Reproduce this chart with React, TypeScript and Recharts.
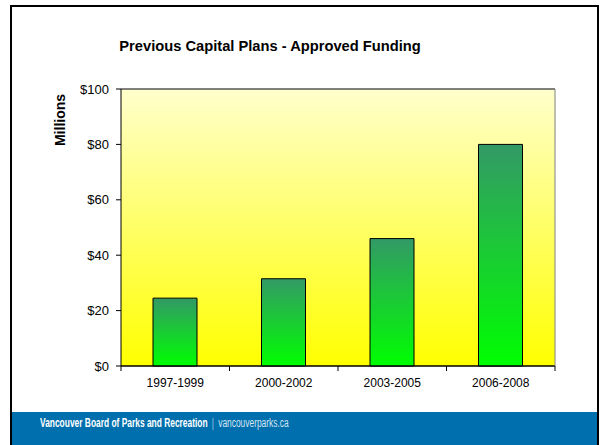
import React from 'react';
import {
    BarChart,
    Bar,
    XAxis,
    YAxis,
    CartesianGrid,
    ReferenceLine,
} from 'recharts';

// ---- data ----
const periods = ['1997-1999', '2000-2002', '2003-2005', '2006-2008'];
const funding = [24.5, 31.5, 46, 80];
const yTicks = [0, 20, 40, 60, 80, 100];

const chartData = periods.map((p, i) => ({ period: p, funding: funding[i] }));

// ---- layout ----
const W = 600;
const H = 445;
const PLOT_LEFT = 121;
const PLOT_RIGHT = 555;
const PLOT_TOP = 89;
const PLOT_BOTTOM = 366;
const X_AXIS_H = 30;
const HALF_BAND = (PLOT_RIGHT - PLOT_LEFT) / periods.length / 2;
const FONT = 'Arial, "Liberation Sans", Helvetica, sans-serif';

/**
 * Category tick: label at the centre, tick marks on the band edges (Excel style)
 */
function PeriodTick(props: any) {
    const { x, payload, index } = props;
    const isLast = index === periods.length - 1;
    return (
        <g>
            <line x1={x - HALF_BAND} x2={x - HALF_BAND} y1={PLOT_BOTTOM} y2={PLOT_BOTTOM + 5} stroke="#000" />
            {isLast && (
                <line x1={x + HALF_BAND} x2={x + HALF_BAND} y1={PLOT_BOTTOM} y2={PLOT_BOTTOM + 5} stroke="#000" />
            )}
            <text x={x} y={PLOT_BOTTOM + 21} textAnchor="middle" fontSize={12} fontFamily={FONT} fill="#000">
                {payload.value}
            </text>
        </g>
    );
}

export default function App() {
    return (
        <div style={{ position: 'absolute', left: 0, top: 0, width: W, height: H, background: '#fff', overflow: 'hidden' }}>
            {/* Slide frame */}
            <div
                style={{
                    position: 'absolute',
                    left: 10,
                    top: 5,
                    width: 589,
                    height: 440,
                    boxSizing: 'border-box',
                    borderLeft: '2.5px solid #000',
                    borderTop: '2.5px solid #000',
                    borderRight: '2px solid #000',
                }}
            />

            {/* Title */}
            <div
                style={{
                    position: 'absolute',
                    left: 0,
                    width: 540,
                    top: 38,
                    textAlign: 'center',
                    fontFamily: FONT,
                    fontWeight: 'bold',
                    fontSize: 14.7,
                    color: '#000',
                }}
            >
                Previous Capital Plans - Approved Funding
            </div>

            {/* Axis title */}
            <div
                style={{
                    position: 'absolute',
                    left: 60,
                    top: 120,
                    transform: 'translate(-50%, -50%) rotate(-90deg)',
                    fontFamily: FONT,
                    fontWeight: 'bold',
                    fontSize: 14,
                    whiteSpace: 'nowrap',
                    color: '#000',
                }}
            >
                Millions
            </div>

            <div style={{ position: 'absolute', left: 0, top: 0 }}>
                <BarChart
                    width={W}
                    height={H}
                    data={chartData}
                    margin={{ top: PLOT_TOP, right: W - PLOT_RIGHT - 1, left: 0, bottom: H - PLOT_BOTTOM - X_AXIS_H }}
                >
                    <defs>
                        <linearGradient id="plotBg" x1="0" y1="0" x2="0" y2="1">
                            <stop offset="0%" stopColor="#FFFFCC" />
                            <stop offset="100%" stopColor="#FFFF00" />
                        </linearGradient>
                        <linearGradient id="barFill" x1="0" y1="0" x2="0" y2="1">
                            <stop offset="0%" stopColor="#339966" />
                            <stop offset="100%" stopColor="#00FF00" />
                        </linearGradient>
                    </defs>

                    <CartesianGrid vertical={false} stroke="#000" fill="url(#plotBg)" fillOpacity={1} />

                    <XAxis
                        dataKey="period"
                        height={X_AXIS_H}
                        axisLine={{ stroke: '#000' }}
                        tickLine={false}
                        tick={<PeriodTick />}
                        interval={0}
                    />
                    <YAxis
                        yAxisId="left"
                        width={PLOT_LEFT}
                        domain={[0, 100]}
                        ticks={yTicks}
                        tickFormatter={(v) => `$${v}`}
                        axisLine={{ stroke: '#000' }}
                        tickLine={{ stroke: '#000' }}
                        tickSize={5}
                        tickMargin={7}
                        tick={{ fontSize: 13, fontFamily: FONT, fill: '#000' }}
                    />
                    <YAxis
                        yAxisId="right"
                        orientation="right"
                        width={1}
                        domain={[0, 100]}
                        axisLine={{ stroke: '#808080' }}
                        tick={false}
                        tickLine={false}
                    />

                    <ReferenceLine yAxisId="left" y={100} stroke="#808080" />

                    <Bar
                        yAxisId="left"
                        dataKey="funding"
                        barSize={44}
                        fill="url(#barFill)"
                        stroke="#000"
                        strokeWidth={1}
                        isAnimationActive={false}
                    />
                </BarChart>
            </div>

            {/* Footer band */}
            <div
                style={{
                    position: 'absolute',
                    left: 12,
                    top: 412,
                    width: 585,
                    height: 33,
                    background: '#006FAE',
                }}
            >
                <div
                    style={{
                        position: 'absolute',
                        left: 28,
                        top: 4,
                        fontFamily: '"Liberation Sans", Arial, sans-serif',
                        fontSize: 12,
                        whiteSpace: 'nowrap',
                        color: '#fff',
                        transform: 'scaleX(0.7)',
                        transformOrigin: 'left center',
                    }}
                >
                    <span style={{ fontWeight: 'bold' }}>Vancouver Board of Parks and Recreation</span>
                    <span style={{ color: '#9fc3de', margin: '0 6px' }}>|</span>
                    <span style={{ color: '#d6e6f2' }}>vancouverparks.ca</span>
                </div>
            </div>
        </div>
    );
}
